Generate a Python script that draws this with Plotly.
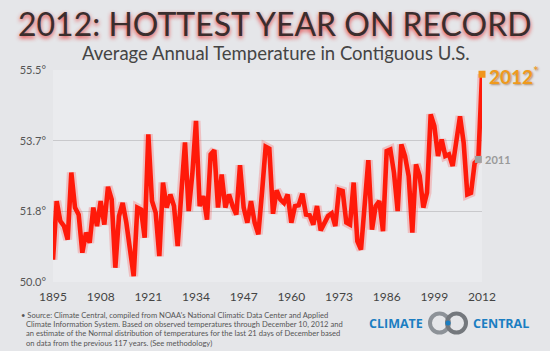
import plotly.graph_objects as go

years = list(range(1895, 2013))
temps = [
    50.58, 52.10, 51.58, 51.45, 51.10, 52.84, 51.93, 51.75, 50.76, 51.28,
    51.02, 51.93, 51.45, 52.10, 51.49, 52.47, 52.14, 50.37, 51.71, 52.05,
    51.54, 50.84, 50.15, 51.93, 51.88, 51.15, 53.83, 52.10, 51.80, 50.67,
    52.58, 51.93, 52.27, 51.97, 50.93, 52.30, 53.62, 51.84, 52.80, 54.18,
    51.97, 52.23, 51.62, 53.31, 53.42, 51.93, 52.79, 51.93, 52.27, 51.97,
    51.75, 53.03, 51.93, 51.54, 52.10, 51.54, 51.24, 52.32, 53.51, 53.46,
    51.77, 52.38, 52.14, 52.05, 52.27, 51.54, 51.97, 51.99, 52.29, 51.75,
    51.73, 51.49, 51.97, 51.34, 51.56, 51.71, 51.78, 51.45, 52.39, 52.36,
    51.54, 51.49, 52.58, 51.06, 50.84, 51.97, 53.16, 51.36, 51.97, 52.10,
    51.32, 53.40, 53.44, 52.83, 51.84, 53.57, 53.27, 52.75, 51.28, 53.05,
    52.75, 51.93, 52.32, 54.35, 54.05, 53.27, 53.70, 53.27, 53.31, 53.01,
    53.61, 54.30, 53.61, 52.27, 52.31, 53.09, 53.18, 55.39,
]
assert len(years) == len(temps)

x_ticks = [1895, 1908, 1921, 1934, 1947, 1960, 1973, 1986, 1999, 2012]
y_ticks = [50.0, 51.8333, 53.6667, 55.5]
y_tick_text = ["50.0°", "51.8°", "53.7°", "55.5°"]

source_lines = [
    "• Source: Climate Central, compiled from NOAA's National Climatic Data Center and Applied",
    "Climate Information System. Based on observed temperatures through December 10, 2012 and",
    "an estimate of the Normal distribution of temperatures for the last 21 days of December based",
    "on data from the previous 117 years. (See methodology)",
]

W, H = 550, 351
L, R, T, B = 53, 68, 70, 69


def px(x):
    return (x - L) / (W - L - R)


def py(y):
    return (H - B - y) / (H - T - B)


fig = go.Figure()
fig.add_trace(go.Scatter(x=years, y=temps, mode="lines",
                         line=dict(color="rgba(255,40,40,0.22)", width=9),
                         hoverinfo="skip", cliponaxis=False))
fig.add_trace(go.Scatter(x=years, y=temps, mode="lines",
                         line=dict(color="#ff1a0a", width=4.6),
                         cliponaxis=False))
fig.add_trace(go.Scatter(x=[years[-2]], y=[temps[-2]], mode="markers",
                         marker=dict(symbol="square", size=7, color="#a2a2a2"),
                         cliponaxis=False))
fig.add_trace(go.Scatter(x=[years[-1]], y=[temps[-1]], mode="markers",
                         marker=dict(symbol="square", size=7, color="#f0961e"),
                         cliponaxis=False))

annotations = [
    dict(x=px(275), y=py(23), xref="paper", yref="paper", xanchor="center", yanchor="middle",
         text="2012: HOTTEST YEAR ON RECORD", showarrow=False,
         font=dict(family="Lato", size=32, color="#3b2d2d",
                   shadow="0px 2px 4px rgba(230,30,30,0.85)")),
    dict(x=px(276), y=py(52.5), xref="paper", yref="paper", xanchor="center", yanchor="middle",
         text="Average Annual Temperature in Contiguous U.S.", showarrow=False,
         font=dict(family="Lato", size=18.5, color="#444444")),
    dict(x=years[-1], y=temps[-1], xref="x", yref="y", text="<b>2012</b><sup>*</sup>",
         showarrow=False, xanchor="left", yanchor="middle", xshift=5, yshift=-1,
         font=dict(family="Lato", size=19, color="#ef9a1c",
                   shadow="1px 1px 2px rgba(120,60,0,0.5)")),
    dict(x=years[-2], y=temps[-2], xref="x", yref="y", text="<b>2011</b>",
         showarrow=False, xanchor="left", yanchor="middle", xshift=5,
         font=dict(family="Lato", size=11, color="#9a9a9a")),
    dict(x=px(425), y=py(323), xref="paper", yref="paper", xanchor="right", yanchor="middle",
         text="<b>CLIMATE</b>", showarrow=False,
         font=dict(family="Open Sans", size=12.5, color="#1b7ec2")),
    dict(x=px(471), y=py(323), xref="paper", yref="paper", xanchor="left", yanchor="middle",
         text="<b>CENTRAL</b>", showarrow=False,
         font=dict(family="Open Sans", size=12.5, color="#1b7ec2")),
]
for i, line in enumerate(source_lines):
    annotations.append(dict(
        x=px(19 if i == 0 else 24), y=py(315 + i * 9.2), xref="paper", yref="paper",
        xanchor="left", yanchor="middle", showarrow=False, text=line,
        font=dict(family="Lato", size=7.6, color="#555555")))

shapes = [
    dict(type="circle", xref="paper", yref="paper",
         x0=px(430), x1=px(449), y0=py(332.5), y1=py(313.5),
         line=dict(color="#8d9298", width=4)),
    dict(type="circle", xref="paper", yref="paper",
         x0=px(447), x1=px(466), y0=py(332.5), y1=py(313.5),
         line=dict(color="#74787d", width=4)),
    dict(type="circle", xref="paper", yref="paper",
         x0=px(445.5), x1=px(450.5), y0=py(325.5), y1=py(320.5),
         fillcolor="#1b7ec2", line=dict(color="#1b7ec2", width=0)),
]

fig.update_layout(
    width=W, height=H,
    margin=dict(l=L, r=R, t=T, b=B),
    paper_bgcolor="#e5e6e9",
    plot_bgcolor="#eaebee",
    showlegend=False,
    annotations=annotations,
    shapes=shapes,
    font=dict(family="Lato", color="#444444"),
)
fig.update_xaxes(range=[1895, 2012], tickvals=x_ticks, showgrid=False,
                 zeroline=False, showline=False, ticks="", ticklabelstandoff=6,
                 tickfont=dict(family="Lato", size=12, color="#444444"))
fig.update_yaxes(range=[50.0, 55.5], tickvals=y_ticks, ticktext=y_tick_text,
                 showgrid=True, gridcolor="#c9c9cc", gridwidth=1,
                 zeroline=False, showline=False, ticks="", ticklabelstandoff=6,
                 tickfont=dict(family="Lato", size=11, color="#555555"))

fig.write_html("out.html")
